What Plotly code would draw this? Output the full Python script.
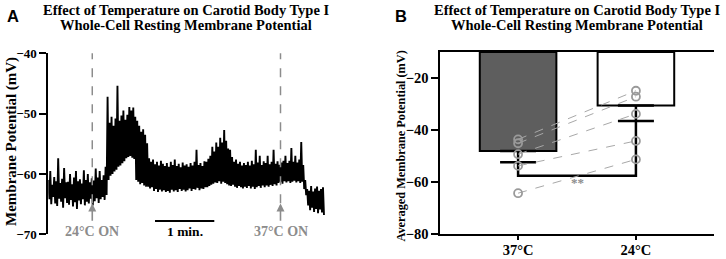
import plotly.graph_objects as go

# ---------------- Panel A data (trace envelope) ----------------
t_step = 2  # seconds between samples
trace_hi = [
    -61.0, -59.5, -61.8, -60.5, -61.2, -57.4, -61.5, -60.8, -59.0, -61.4,
    -61.3, -60.0, -61.7, -60.6, -59.5, -61.2, -60.9, -61.6, -59.4, -61.0,
    -60.0, -61.4, -60.7, -61.1, -59.1, -60.6, -59.5, -61.0, -60.2, -58.8,
    -47.2, -51.5, -50.5, -52.0, -50.8, -45.4, -51.2, -50.3, -49.5, -51.0,
    -50.2, -48.9, -49.5, -49.0, -50.5, -51.2, -52.0, -53.0, -52.6, -53.5,
    -54.9, -57.4, -58.0, -57.6, -58.4, -58.0, -58.6, -57.8, -58.3, -58.7,
    -58.2, -58.8, -58.0, -58.5, -57.6, -58.7, -58.3, -58.9, -58.1, -58.6,
    -58.4, -58.8, -58.2, -58.6, -58.0, -56.0, -58.5, -58.2, -58.7, -57.9,
    -58.0, -57.5, -57.0, -55.5, -56.3, -54.8, -55.5, -54.0, -54.8, -52.7,
    -54.5, -55.8, -56.0, -57.2, -58.0, -57.6, -58.3, -58.0, -58.6, -58.2,
    -58.5, -58.0, -58.6, -57.8, -58.4, -56.0, -58.1, -57.0, -58.5, -57.9,
    -58.2, -57.0, -58.4, -58.0, -56.0, -58.3, -57.9, -58.5, -58.1, -57.8,
    -57.0, -58.2, -57.8, -55.7, -58.0, -57.0, -58.1, -57.6, -54.7, -58.5,
    -61.0, -62.5, -62.8, -62.0, -62.9, -62.4, -62.1, -62.8, -62.5, -62.2,
]
trace_lo = [
    -64.2, -65.0, -63.8, -64.9, -65.3, -64.1, -64.6, -65.6, -64.0, -64.8,
    -65.1, -64.3, -65.4, -64.7, -65.8, -64.4, -65.0, -64.2, -65.2, -64.6,
    -64.9, -64.1, -65.2, -64.5, -64.0, -64.8, -64.2, -63.8, -64.3, -63.5,
    -61.0, -60.3, -60.0, -59.6, -59.3, -58.8, -58.6, -58.2, -57.9, -57.4,
    -57.2, -57.0, -57.3, -57.5, -61.0, -61.3, -61.7, -61.5, -61.9, -62.1,
    -62.1, -62.4, -62.2, -62.8, -62.5, -63.0, -62.6, -62.9, -62.7, -63.0,
    -62.8, -63.1, -62.6, -62.9, -62.7, -63.0, -62.5, -62.8, -62.6, -62.9,
    -62.7, -62.4, -62.8, -62.5, -62.6, -62.3, -62.7, -62.4, -62.5, -62.2,
    -62.2, -62.0, -61.8, -61.6, -61.4, -61.5, -61.2, -61.6, -61.3, -61.5,
    -61.7, -61.9, -62.0, -61.8, -62.1, -62.3, -62.0, -62.2, -62.4, -62.1,
    -62.3, -62.0, -62.4, -62.1, -62.5, -62.2, -62.0, -62.3, -61.9, -62.2,
    -61.9, -62.1, -61.8, -62.0, -61.7, -61.9, -61.5, -61.3, -61.6, -61.2,
    -61.4, -61.2, -61.5, -61.3, -61.1, -61.4, -61.2, -61.5, -61.3, -62.5,
    -63.5, -65.2, -66.0, -65.6, -66.3, -65.8, -66.5, -65.9, -66.4, -66.8,
]
switch_times = [44.5, 235.0]          # s
switch_labels = ["24°C ON", "37°C ON"]
scale_bar = [108.0, 168.0]            # 1 min
a_yticks = [-40, -50, -60, -70]

# ---------------- Panel B data ----------------
categories = ["37°C", "24°C"]
bar_means = [-48.1, -30.6]
bar_sem = [4.3, 5.9]
bar_base = -10
paired_37 = [-43.6, -45.1, -49.3, -53.8, -64.3]
paired_24 = [-24.9, -27.2, -33.8, -44.2, -51.3]
bracket_y = -57.6
b_yticks = [-20, -40, -60, -80]

W, H = 726, 259
def px_x(p): return p / W
def px_y(p): return 1 - p / H

SERIF = "Liberation Serif"
GRAY = "#8c8c8c"

fig = go.Figure()

# Panel A trace: interleave upper/lower envelope
tx, ty = [], []
for i, (h, l) in enumerate(zip(trace_hi, trace_lo)):
    tx += [i * t_step, i * t_step + t_step / 2]
    ty += [h, l]
fig.add_trace(go.Scatter(x=tx, y=ty, mode="lines", line=dict(color="black", width=1.9),
                         xaxis="x", yaxis="y", showlegend=False, hoverinfo="skip"))

shapes = []
annotations = []
for st, lab in zip(switch_times, switch_labels):
    shapes.append(dict(type="line", xref="x", yref="y", x0=st, x1=st, y0=-39.5, y1=-65.3,
                       line=dict(color=GRAY, width=1.5, dash="dash")))
    annotations.append(dict(x=st, y=-64.9, ax=st, ay=-68.0, xref="x", yref="y", axref="x", ayref="y",
                            showarrow=True, arrowhead=2, arrowsize=1, arrowwidth=1.6,
                            arrowcolor=GRAY, text=""))
    annotations.append(dict(x=st, y=-69.5, xref="x", yref="y", text=lab, showarrow=False,
                            font=dict(family=SERIF, size=14, color=GRAY, weight="bold"),
                            xanchor="center", yanchor="middle"))
shapes.append(dict(type="line", xref="x", yref="y", x0=scale_bar[0], x1=scale_bar[1],
                   y0=-67.8, y1=-67.8, line=dict(color="black", width=2)))
annotations.append(dict(x=(scale_bar[0] + scale_bar[1]) / 2, y=-69.5, xref="x", yref="y",
                        text="1 min.", showarrow=False,
                        font=dict(family=SERIF, size=13.5, color="black", weight="bold")))

# Panel B bars
fig.add_trace(go.Bar(x=categories, y=[m - bar_base for m in bar_means], base=bar_base,
                     width=0.65, marker=dict(color=["#5e5e5e", "white"],
                                             line=dict(color="black", width=2)),
                     xaxis="x2", yaxis="y2", showlegend=False, hoverinfo="skip"))
# error bars
fig.add_trace(go.Scatter(x=categories, y=bar_means, mode="markers", marker=dict(opacity=0),
                         error_y=dict(type="data", symmetric=False, array=[0, 0],
                                      arrayminus=bar_sem, color="black", thickness=2.5, width=18),
                         xaxis="x2", yaxis="y2", showlegend=False, hoverinfo="skip"))
# significance bracket
fig.add_trace(go.Scatter(x=[categories[0], categories[0], categories[1], categories[1]],
                         y=[bar_means[0] - bar_sem[0], bracket_y, bracket_y, bar_means[1] - bar_sem[1]],
                         mode="lines", line=dict(color="black", width=2.5),
                         xaxis="x2", yaxis="y2", showlegend=False, hoverinfo="skip"))
# paired lines
for a, b in zip(paired_37, paired_24):
    fig.add_trace(go.Scatter(x=categories, y=[a, b], mode="lines",
                             line=dict(color="#a8a8a8", width=1, dash="dash"),
                             xaxis="x2", yaxis="y2", showlegend=False, hoverinfo="skip"))
fig.add_trace(go.Scatter(x=[categories[0]] * len(paired_37) + [categories[1]] * len(paired_24),
                         y=paired_37 + paired_24, mode="markers",
                         marker=dict(symbol="circle-open", size=8, color="#9a9a9a",
                                     line=dict(width=1.8, color="#9a9a9a")),
                         xaxis="x2", yaxis="y2", showlegend=False, hoverinfo="skip"))
annotations.append(dict(x=0.5, y=-60.2, xref="x2", yref="y2", text="**", showarrow=False,
                        font=dict(family=SERIF, size=13, color=GRAY, weight="bold")))

# titles and labels
title1 = "Effect of Temperature on Carotid Body Type I"
title2 = "Whole-Cell Resting Membrane Potential"
for cx in (185.5, 576.5):
    annotations.append(dict(x=px_x(cx), y=px_y(9.5), xref="paper", yref="paper", text=title1,
                            showarrow=False, xanchor="center", yanchor="middle",
                            font=dict(family=SERIF, size=14.5, color="black", weight="bold")))
    annotations.append(dict(x=px_x(cx), y=px_y(25), xref="paper", yref="paper", text=title2,
                            showarrow=False, xanchor="center", yanchor="middle",
                            font=dict(family=SERIF, size=14.5, color="black", weight="bold")))
for lab, cx in (("A", 12.5), ("B", 400.5)):
    annotations.append(dict(x=px_x(cx), y=px_y(16), xref="paper", yref="paper", text=lab,
                            showarrow=False, xanchor="center", yanchor="middle",
                            font=dict(family="Liberation Sans", size=16.5, color="black", weight="bold")))
annotations.append(dict(x=px_x(11), y=px_y(142), xref="paper", yref="paper",
                        text="Membrane Potential (mV)", textangle=-90, showarrow=False,
                        xanchor="center", yanchor="middle",
                        font=dict(family=SERIF, size=15, color="black", weight="bold")))
annotations.append(dict(x=px_x(400), y=px_y(146.5), xref="paper", yref="paper",
                        text="Averaged Membrane Potential (mV)", textangle=-90, showarrow=False,
                        xanchor="center", yanchor="middle",
                        font=dict(family=SERIF, size=12.3, color="black", weight="bold")))

axis_common = dict(showgrid=False, zeroline=False, showline=True, linecolor="black",
                   linewidth=2, ticks="outside", tickcolor="black", tickwidth=2,
                   automargin=False)

fig.update_layout(
    width=W, height=H, autosize=False,
    margin=dict(l=0, r=0, t=0, b=0, pad=0, autoexpand=False),
    paper_bgcolor="white", plot_bgcolor="white",
    xaxis=dict(domain=[px_x(48.3), px_x(329.9)], range=[0, 285], visible=False, anchor="y"),
    yaxis=dict(domain=[px_y(234.3), px_y(53.3)], range=[-70, -40], tickvals=a_yticks,
               ticklen=7, anchor="x",
               tickfont=dict(family=SERIF, size=13, color="black", weight="bold"),
               **axis_common),
    xaxis2=dict(domain=[px_x(440.3), px_x(713.7)], range=[-0.66, 1.66], type="category",
                anchor="y2", mirror=True, ticklen=4, ticklabelstandoff=-2,
                tickfont=dict(family=SERIF, size=14.5, color="black", weight="bold"),
                **axis_common),
    yaxis2=dict(domain=[px_y(234), px_y(52)], range=[-80, -10], tickvals=b_yticks,
                ticklen=7, anchor="x2",
                tickfont=dict(family=SERIF, size=14.5, color="black", weight="bold"),
                **axis_common),
    shapes=shapes, annotations=annotations,
)

fig.write_html("out.html", config={"responsive": False, "displayModeBar": False},
               post_script="document.body.style.margin='0';document.body.style.overflow='hidden';")
